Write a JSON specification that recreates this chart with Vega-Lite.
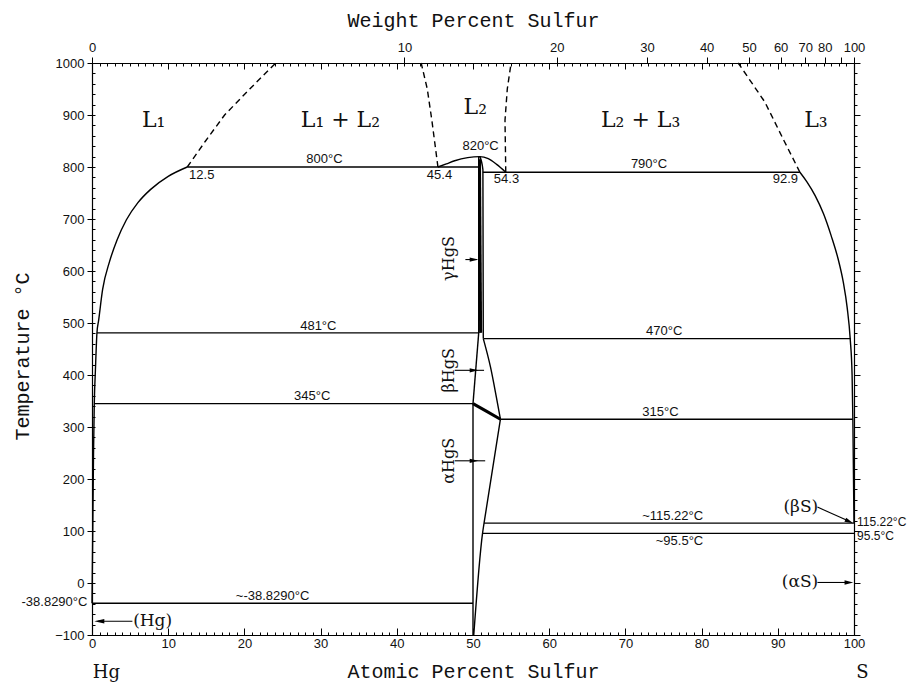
{
  "$schema": "https://vega.github.io/schema/vega-lite/v6.json",
  "width": 762,
  "height": 572,
  "autosize": "none",
  "padding": {"left": 92, "top": 63, "right": 64, "bottom": 48},
  "background": "white",
  "config": {
    "view": {"stroke": null},
    "axis": {"domainColor": "black", "tickColor": "black", "labelColor": "#111", "labelFont": "Liberation Sans", "labelFontSize": 13, "titleFont": "Liberation Mono", "titleFontSize": 20, "titleFontWeight": "normal", "titleColor": "#111", "grid": false, "labelFlush": false, "labelOverlap": false, "domainWidth": 1.2, "tickWidth": 1}
  },
  "datasets": {
    "origin": [{"x": 0, "t": 0}],
    "lines": [
      {"s": "L1liq", "kind": "boundary", "o": 1, "x": 0, "t": -38.83},
      {"s": "L1liq", "kind": "boundary", "o": 2, "x": 0.1, "t": 100},
      {"s": "L1liq", "kind": "boundary", "o": 3, "x": 0.2, "t": 250},
      {"s": "L1liq", "kind": "boundary", "o": 4, "x": 0.3, "t": 345},
      {"s": "L1liq", "kind": "boundary", "o": 5, "x": 0.45, "t": 410},
      {"s": "L1liq", "kind": "boundary", "o": 6, "x": 0.65, "t": 481},
      {"s": "L1liq", "kind": "boundary", "o": 7, "x": 0.87, "t": 505},
      {"s": "L1liq", "kind": "boundary", "o": 8, "x": 1.4, "t": 565},
      {"s": "L1liq", "kind": "boundary", "o": 9, "x": 2.3, "t": 618},
      {"s": "L1liq", "kind": "boundary", "o": 10, "x": 3.3, "t": 660},
      {"s": "L1liq", "kind": "boundary", "o": 11, "x": 4.5, "t": 698},
      {"s": "L1liq", "kind": "boundary", "o": 12, "x": 6.0, "t": 731},
      {"s": "L1liq", "kind": "boundary", "o": 13, "x": 7.7, "t": 757},
      {"s": "L1liq", "kind": "boundary", "o": 14, "x": 10, "t": 782},
      {"s": "L1liq", "kind": "boundary", "o": 15, "x": 12.5, "t": 800},

      {"s": "dome", "kind": "boundary", "o": 1, "x": 45.4, "t": 800},
      {"s": "dome", "kind": "boundary", "o": 2, "x": 46.5, "t": 806},
      {"s": "dome", "kind": "boundary", "o": 3, "x": 47.6, "t": 812},
      {"s": "dome", "kind": "boundary", "o": 4, "x": 49.3, "t": 818},
      {"s": "dome", "kind": "boundary", "o": 5, "x": 50.9, "t": 820},
      {"s": "dome", "kind": "boundary", "o": 6, "x": 52.0, "t": 816},
      {"s": "dome", "kind": "boundary", "o": 7, "x": 53.1, "t": 805},
      {"s": "dome", "kind": "boundary", "o": 8, "x": 54.3, "t": 790},

      {"s": "gL", "kind": "boundary", "o": 1, "x": 50.75, "t": 820},
      {"s": "gL", "kind": "boundary", "o": 2, "x": 50.75, "t": 481},
      {"s": "gR", "kind": "boundary", "o": 1, "x": 50.9, "t": 820},
      {"s": "gR", "kind": "boundary", "o": 2, "x": 51.3, "t": 795},
      {"s": "gR", "kind": "boundary", "o": 3, "x": 51.35, "t": 470},
      {"s": "bL", "kind": "boundary", "o": 1, "x": 50.75, "t": 481},
      {"s": "bL", "kind": "boundary", "o": 2, "x": 50.0, "t": 345},
      {"s": "bR", "kind": "boundary", "o": 1, "x": 51.35, "t": 470},
      {"s": "bR", "kind": "boundary", "o": 2, "x": 52.3, "t": 415},
      {"s": "bR", "kind": "boundary", "o": 3, "x": 53.06, "t": 358},
      {"s": "bR", "kind": "boundary", "o": 4, "x": 53.6, "t": 315},
      {"s": "aL", "kind": "boundary", "o": 1, "x": 50.0, "t": 345},
      {"s": "aL", "kind": "boundary", "o": 2, "x": 50.0, "t": -100},
      {"s": "aR", "kind": "boundary", "o": 1, "x": 53.6, "t": 315},
      {"s": "aR", "kind": "boundary", "o": 2, "x": 51.45, "t": 115.22},
      {"s": "aR", "kind": "boundary", "o": 3, "x": 51.25, "t": 95.5},
      {"s": "aR", "kind": "boundary", "o": 4, "x": 50.1, "t": -100},

      {"s": "h800", "kind": "boundary", "o": 1, "x": 12.5, "t": 800},
      {"s": "h800", "kind": "boundary", "o": 2, "x": 50.75, "t": 800},
      {"s": "h790", "kind": "boundary", "o": 1, "x": 51.3, "t": 790},
      {"s": "h790", "kind": "boundary", "o": 2, "x": 92.9, "t": 790},
      {"s": "h481", "kind": "boundary", "o": 1, "x": 0.65, "t": 481},
      {"s": "h481", "kind": "boundary", "o": 2, "x": 50.75, "t": 481},
      {"s": "h470", "kind": "boundary", "o": 1, "x": 51.35, "t": 470},
      {"s": "h470", "kind": "boundary", "o": 2, "x": 99.55, "t": 470},
      {"s": "h345", "kind": "boundary", "o": 1, "x": 0.3, "t": 345},
      {"s": "h345", "kind": "boundary", "o": 2, "x": 50.0, "t": 345},
      {"s": "h315", "kind": "boundary", "o": 1, "x": 53.6, "t": 315},
      {"s": "h315", "kind": "boundary", "o": 2, "x": 99.85, "t": 315},
      {"s": "h115", "kind": "boundary", "o": 1, "x": 51.45, "t": 115.22},
      {"s": "h115", "kind": "boundary", "o": 2, "x": 100, "t": 115.22},
      {"s": "h95", "kind": "boundary", "o": 1, "x": 51.25, "t": 95.5},
      {"s": "h95", "kind": "boundary", "o": 2, "x": 100, "t": 95.5},
      {"s": "h38", "kind": "boundary", "o": 1, "x": 0, "t": -38.83},
      {"s": "h38", "kind": "boundary", "o": 2, "x": 50.0, "t": -38.83},

      {"s": "L3liq", "kind": "boundary", "o": 1, "x": 92.9, "t": 790},
      {"s": "L3liq", "kind": "boundary", "o": 2, "x": 93.8, "t": 772},
      {"s": "L3liq", "kind": "boundary", "o": 3, "x": 94.9, "t": 745},
      {"s": "L3liq", "kind": "boundary", "o": 4, "x": 96.0, "t": 710},
      {"s": "L3liq", "kind": "boundary", "o": 5, "x": 97.0, "t": 668},
      {"s": "L3liq", "kind": "boundary", "o": 6, "x": 97.9, "t": 624},
      {"s": "L3liq", "kind": "boundary", "o": 7, "x": 98.6, "t": 578},
      {"s": "L3liq", "kind": "boundary", "o": 8, "x": 99.1, "t": 530},
      {"s": "L3liq", "kind": "boundary", "o": 9, "x": 99.5, "t": 470},
      {"s": "L3liq", "kind": "boundary", "o": 10, "x": 99.75, "t": 400},
      {"s": "L3liq", "kind": "boundary", "o": 11, "x": 99.85, "t": 315},
      {"s": "L3liq", "kind": "boundary", "o": 12, "x": 100, "t": 115.22},

      {"s": "m1", "kind": "metastable", "o": 1, "x": 12.5, "t": 800},
      {"s": "m1", "kind": "metastable", "o": 2, "x": 14.9, "t": 850},
      {"s": "m1", "kind": "metastable", "o": 3, "x": 17.4, "t": 900},
      {"s": "m1", "kind": "metastable", "o": 4, "x": 20.7, "t": 950},
      {"s": "m1", "kind": "metastable", "o": 5, "x": 24.1, "t": 1000},
      {"s": "m2", "kind": "metastable", "o": 1, "x": 45.4, "t": 800},
      {"s": "m2", "kind": "metastable", "o": 2, "x": 44.6, "t": 890},
      {"s": "m2", "kind": "metastable", "o": 3, "x": 44.0, "t": 950},
      {"s": "m2", "kind": "metastable", "o": 4, "x": 43.2, "t": 1000},
      {"s": "m3", "kind": "metastable", "o": 1, "x": 54.3, "t": 790},
      {"s": "m3", "kind": "metastable", "o": 2, "x": 54.2, "t": 890},
      {"s": "m3", "kind": "metastable", "o": 3, "x": 54.5, "t": 950},
      {"s": "m3", "kind": "metastable", "o": 4, "x": 55.0, "t": 1000},
      {"s": "m4", "kind": "metastable", "o": 1, "x": 92.9, "t": 790},
      {"s": "m4", "kind": "metastable", "o": 2, "x": 90.8, "t": 851},
      {"s": "m4", "kind": "metastable", "o": 3, "x": 88.3, "t": 925},
      {"s": "m4", "kind": "metastable", "o": 4, "x": 84.8, "t": 1000},

      {"s": "ab", "kind": "narrow", "o": 1, "x": 50.0, "t": 345},
      {"s": "ab", "kind": "narrow", "o": 2, "x": 51.8, "t": 330},
      {"s": "ab", "kind": "narrow", "o": 3, "x": 53.6, "t": 315},
      {"s": "gbar", "kind": "narrow", "o": 1, "x": 50.85, "t": 815},
      {"s": "gbar", "kind": "narrow", "o": 2, "x": 51.0, "t": 481},

      {"s": "pG", "kind": "pointer", "o": 1, "x": 49.0, "t": 622},
      {"s": "pG", "kind": "pointer", "o": 2, "x": 50.5, "t": 622},
      {"s": "pB", "kind": "pointer", "o": 1, "x": 47.6, "t": 409},
      {"s": "pB", "kind": "pointer", "o": 2, "x": 51.45, "t": 409},
      {"s": "pA", "kind": "pointer", "o": 1, "x": 47.6, "t": 235},
      {"s": "pA", "kind": "pointer", "o": 2, "x": 51.6, "t": 235},
      {"s": "pHg", "kind": "pointer", "o": 1, "x": 5.3, "t": -73.5},
      {"s": "pHg", "kind": "pointer", "o": 2, "x": 0.8, "t": -73.5},
      {"s": "pBS", "kind": "pointer", "o": 1, "x": 95.2, "t": 146},
      {"s": "pBS", "kind": "pointer", "o": 2, "x": 99.0, "t": 121},
      {"s": "pAS", "kind": "pointer", "o": 1, "x": 95.2, "t": 1},
      {"s": "pAS", "kind": "pointer", "o": 2, "x": 99.0, "t": 1}
    ],
    "headsRight": [
      {"x": 50.7, "t": 622},
      {"x": 50.7, "t": 409},
      {"x": 50.7, "t": 235},
      {"x": 99.9, "t": 1}
    ],
    "headsLeft": [{"x": 0.3, "t": -73.5}],
    "headsDiag": [{"x": 99.9, "t": 114.8}],
    "regions": [
      {"label": "L₁", "x": 8.1, "t": 891},
      {"label": "L₁ + L₂", "x": 32.6, "t": 891},
      {"label": "L₂", "x": 50.3, "t": 915},
      {"label": "L₂ + L₃", "x": 72.0, "t": 891},
      {"label": "L₃", "x": 95.0, "t": 891}
    ],
    "temps": [
      {"label": "800°C", "x": 30.5, "t": 816},
      {"label": "12.5", "x": 14.4, "t": 784},
      {"label": "45.4", "x": 45.6, "t": 784},
      {"label": "820°C", "x": 51.0, "t": 841},
      {"label": "54.3", "x": 54.4, "t": 776},
      {"label": "790°C", "x": 73.1, "t": 806},
      {"label": "92.9", "x": 91.0, "t": 776},
      {"label": "481°C", "x": 29.7, "t": 495},
      {"label": "470°C", "x": 75.1, "t": 484},
      {"label": "345°C", "x": 28.9, "t": 359},
      {"label": "315°C", "x": 74.6, "t": 329},
      {"label": "~115.22°C", "x": 76.2, "t": 129},
      {"label": "~95.5°C", "x": 77.1, "t": 81},
      {"label": "~-38.8290°C", "x": 23.7, "t": -25}
    ],
    "tempsRight": [
      {"label": "115.22°C", "x": 100.4, "t": 118},
      {"label": "95.5°C", "x": 100.4, "t": 90}
    ],
    "tempsLeft": [{"label": "-38.8290°C", "x": -0.6, "t": -37}],
    "phases": [
      {"label": "γHgS", "x": 46.9, "t": 624},
      {"label": "βHgS", "x": 46.9, "t": 409},
      {"label": "αHgS", "x": 46.9, "t": 235}
    ],
    "ptrLeftAligned": [{"label": "(Hg)", "x": 5.4, "t": -73.5}],
    "ptrRightAligned": [
      {"label": "(βS)", "x": 95.3, "t": 146},
      {"label": "(αS)", "x": 95.3, "t": 1}
    ],
    "elements": [
      {"label": "Hg", "x": 1.9, "t": -174},
      {"label": "S", "x": 101.1, "t": -174}
    ]
  },
  "resolve": {"axis": {"x": "independent", "y": "independent"}},
  "layer": [
    {
      "data": {"name": "origin"},
      "mark": {"type": "point", "opacity": 0},
      "encoding": {
        "x": {"field": "x", "type": "quantitative", "scale": {"domain": [0, 100], "nice": false, "zero": false},
          "axis": {"orient": "bottom", "values": [0, 10, 20, 30, 40, 50, 60, 70, 80, 90, 100], "format": "d", "tickSize": -7, "labelPadding": 9, "title": "Atomic Percent Sulfur", "titleBaseline": "middle", "titleY": 36}},
        "y": {"field": "t", "type": "quantitative", "scale": {"domain": [-100, 1000], "nice": false, "zero": false},
          "axis": {"orient": "left", "values": [-100, 0, 100, 200, 300, 400, 500, 600, 700, 800, 900, 1000], "format": "d", "tickSize": 5, "labelPadding": 3, "title": "Temperature °C", "titleAngle": 270, "titleX": -70, "titleY": 293, "titleBaseline": "middle", "titleAlign": "center"}}
      }
    },
    {
      "data": {"name": "origin"},
      "mark": {"type": "point", "opacity": 0},
      "encoding": {
        "x": {"field": "x", "type": "quantitative",
          "axis": {"orient": "bottom", "values": [0,1,2,3,4,5,6,7,8,9,10,11,12,13,14,15,16,17,18,19,20,21,22,23,24,25,26,27,28,29,30,31,32,33,34,35,36,37,38,39,40,41,42,43,44,45,46,47,48,49,50,51,52,53,54,55,56,57,58,59,60,61,62,63,64,65,66,67,68,69,70,71,72,73,74,75,76,77,78,79,80,81,82,83,84,85,86,87,88,89,90,91,92,93,94,95,96,97,98,99,100], "tickSize": -3, "labels": false, "domain": false, "title": null}},
        "y": {"field": "t", "type": "quantitative",
          "axis": {"orient": "left", "values": [-100,-80,-60,-40,-20,0,20,40,60,80,100,120,140,160,180,200,220,240,260,280,300,320,340,360,380,400,420,440,460,480,500,520,540,560,580,600,620,640,660,680,700,720,740,760,780,800,820,840,860,880,900,920,940,960,980,1000], "tickSize": -3, "labels": false, "domain": false, "title": null}}
      }
    },
    {
      "data": {"name": "origin"},
      "mark": {"type": "point", "opacity": 0},
      "encoding": {
        "x": {"field": "x", "type": "quantitative",
          "axis": {"orient": "top", "values": [0, 10, 20, 30, 40, 50, 60, 70, 80, 90, 100], "tickSize": -6, "labels": false, "domain": true, "title": null}},
        "y": {"field": "t", "type": "quantitative",
          "axis": {"orient": "right", "values": [-100, 0, 100, 200, 300, 400, 500, 600, 700, 800, 900, 1000], "tickSize": 6, "labels": false, "domain": true, "title": null}}
      }
    },
    {
      "data": {"name": "origin"},
      "mark": {"type": "point", "opacity": 0},
      "encoding": {
        "x": {"field": "x", "type": "quantitative",
          "axis": {"orient": "top", "values": [0,1,2,3,4,5,6,7,8,9,10,11,12,13,14,15,16,17,18,19,20,21,22,23,24,25,26,27,28,29,30,31,32,33,34,35,36,37,38,39,40,41,42,43,44,45,46,47,48,49,50,51,52,53,54,55,56,57,58,59,60,61,62,63,64,65,66,67,68,69,70,71,72,73,74,75,76,77,78,79,80,81,82,83,84,85,86,87,88,89,90,91,92,93,94,95,96,97,98,99,100], "tickSize": -3, "labels": false, "domain": false, "title": null}},
        "y": {"field": "t", "type": "quantitative",
          "axis": {"orient": "right", "values": [-100,-80,-60,-40,-20,0,20,40,60,80,100,120,140,160,180,200,220,240,260,280,300,320,340,360,380,400,420,440,460,480,500,520,540,560,580,600,620,640,660,680,700,720,740,760,780,800,820,840,860,880,900,920,940,960,980,1000], "tickSize": 3, "labels": false, "domain": false, "title": null}}
      }
    },
    {
      "data": {"name": "origin"},
      "mark": {"type": "point", "opacity": 0},
      "encoding": {
        "x": {"field": "x", "type": "quantitative",
          "axis": {"orient": "top", "values": [0, 41.01, 61.0, 72.84, 80.66, 86.22, 90.37, 93.59, 96.16, 98.26, 100], "tickSize": 6, "labelPadding": 3, "domain": false, "title": "Weight Percent Sulfur", "titleBaseline": "middle", "titleY": -43,
            "labelExpr": "datum.value < 1 ? '0' : datum.value < 42 ? '10' : datum.value < 62 ? '20' : datum.value < 73 ? '30' : datum.value < 81 ? '40' : datum.value < 87 ? '50' : datum.value < 91 ? '60' : datum.value < 94 ? '70' : datum.value < 97 ? '80' : datum.value < 99 ? '' : '100'"}},
        "y": {"field": "t", "type": "quantitative", "axis": null}
      }
    },
    {
      "data": {"name": "lines"},
      "transform": [{"filter": "datum.kind == 'boundary'"}],
      "mark": {"type": "line", "color": "black", "strokeWidth": 1.4, "interpolate": "monotone"},
      "encoding": {
        "x": {"field": "x", "type": "quantitative", "axis": null},
        "y": {"field": "t", "type": "quantitative", "axis": null},
        "detail": {"field": "s"},
        "order": {"field": "o"}
      }
    },
    {
      "data": {"name": "lines"},
      "transform": [{"filter": "datum.kind == 'metastable'"}],
      "mark": {"type": "line", "color": "black", "strokeWidth": 1.4, "strokeDash": [6, 4]},
      "encoding": {
        "x": {"field": "x", "type": "quantitative", "axis": null},
        "y": {"field": "t", "type": "quantitative", "axis": null},
        "detail": {"field": "s"},
        "order": {"field": "o"}
      }
    },
    {
      "data": {"name": "lines"},
      "transform": [{"filter": "datum.kind == 'narrow'"}],
      "mark": {"type": "line", "color": "black", "strokeWidth": 3},
      "encoding": {
        "x": {"field": "x", "type": "quantitative", "axis": null},
        "y": {"field": "t", "type": "quantitative", "axis": null},
        "detail": {"field": "s"},
        "order": {"field": "o"}
      }
    },
    {
      "data": {"name": "lines"},
      "transform": [{"filter": "datum.kind == 'pointer'"}],
      "mark": {"type": "line", "color": "black", "strokeWidth": 1.1},
      "encoding": {
        "x": {"field": "x", "type": "quantitative", "axis": null},
        "y": {"field": "t", "type": "quantitative", "axis": null},
        "detail": {"field": "s"},
        "order": {"field": "o"}
      }
    },
    {
      "data": {"name": "headsRight"},
      "mark": {"type": "point", "shape": "M0,0L-1,-0.25L-1,0.25Z", "size": 300, "filled": true, "color": "black", "opacity": 1},
      "encoding": {
        "x": {"field": "x", "type": "quantitative", "axis": null},
        "y": {"field": "t", "type": "quantitative", "axis": null}
      }
    },
    {
      "data": {"name": "headsLeft"},
      "mark": {"type": "point", "shape": "M0,0L-1,-0.22L-1,0.22Z", "size": 400, "angle": 180, "filled": true, "color": "black", "opacity": 1},
      "encoding": {
        "x": {"field": "x", "type": "quantitative", "axis": null},
        "y": {"field": "t", "type": "quantitative", "axis": null}
      }
    },
    {
      "data": {"name": "headsDiag"},
      "mark": {"type": "point", "shape": "M0,0L-1,-0.25L-1,0.25Z", "size": 300, "angle": 24, "filled": true, "color": "black", "opacity": 1},
      "encoding": {
        "x": {"field": "x", "type": "quantitative", "axis": null},
        "y": {"field": "t", "type": "quantitative", "axis": null}
      }
    },
    {
      "data": {"name": "regions"},
      "mark": {"type": "text", "font": "DejaVu Serif", "fontSize": 22, "color": "#111", "align": "center", "baseline": "middle"},
      "encoding": {
        "x": {"field": "x", "type": "quantitative", "axis": null},
        "y": {"field": "t", "type": "quantitative", "axis": null},
        "text": {"field": "label"}
      }
    },
    {
      "data": {"name": "temps"},
      "mark": {"type": "text", "font": "Liberation Sans", "fontSize": 13, "color": "#111", "align": "center", "baseline": "middle"},
      "encoding": {
        "x": {"field": "x", "type": "quantitative", "axis": null},
        "y": {"field": "t", "type": "quantitative", "axis": null},
        "text": {"field": "label"}
      }
    },
    {
      "data": {"name": "tempsRight"},
      "mark": {"type": "text", "font": "Liberation Sans", "fontSize": 12, "color": "#111", "align": "left", "baseline": "middle"},
      "encoding": {
        "x": {"field": "x", "type": "quantitative", "axis": null},
        "y": {"field": "t", "type": "quantitative", "axis": null},
        "text": {"field": "label"}
      }
    },
    {
      "data": {"name": "tempsLeft"},
      "mark": {"type": "text", "font": "Liberation Sans", "fontSize": 13, "color": "#111", "align": "right", "baseline": "middle"},
      "encoding": {
        "x": {"field": "x", "type": "quantitative", "axis": null},
        "y": {"field": "t", "type": "quantitative", "axis": null},
        "text": {"field": "label"}
      }
    },
    {
      "data": {"name": "phases"},
      "mark": {"type": "text", "font": "DejaVu Serif", "fontSize": 16, "color": "#111", "align": "center", "baseline": "middle", "angle": 270},
      "encoding": {
        "x": {"field": "x", "type": "quantitative", "axis": null},
        "y": {"field": "t", "type": "quantitative", "axis": null},
        "text": {"field": "label"}
      }
    },
    {
      "data": {"name": "ptrLeftAligned"},
      "mark": {"type": "text", "font": "DejaVu Serif", "fontSize": 17, "color": "#111", "align": "left", "baseline": "middle"},
      "encoding": {
        "x": {"field": "x", "type": "quantitative", "axis": null},
        "y": {"field": "t", "type": "quantitative", "axis": null},
        "text": {"field": "label"}
      }
    },
    {
      "data": {"name": "ptrRightAligned"},
      "mark": {"type": "text", "font": "DejaVu Serif", "fontSize": 17, "color": "#111", "align": "right", "baseline": "middle"},
      "encoding": {
        "x": {"field": "x", "type": "quantitative", "axis": null},
        "y": {"field": "t", "type": "quantitative", "axis": null},
        "text": {"field": "label"}
      }
    },
    {
      "data": {"name": "elements"},
      "mark": {"type": "text", "font": "DejaVu Serif", "fontSize": 18, "color": "#111", "align": "center", "baseline": "middle"},
      "encoding": {
        "x": {"field": "x", "type": "quantitative", "axis": null},
        "y": {"field": "t", "type": "quantitative", "axis": null},
        "text": {"field": "label"}
      }
    }
  ]
}
